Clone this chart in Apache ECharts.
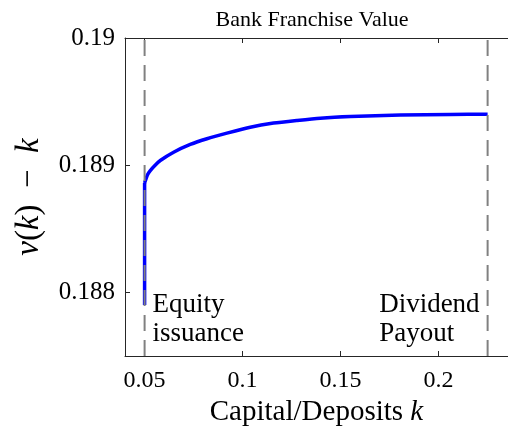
<!DOCTYPE html>
<html>
<head>
<meta charset="utf-8">
<script src="https://cdn.jsdelivr.net/npm/echarts@6/dist/echarts.min.js"></script>
<style>
  html, body { margin: 0; padding: 0; background: #fff; }
  #chart { width: 508px; height: 435px; }
</style>
</head>
<body>
<div id="chart"></div>
<script>
// values
const jumpK = [0.05, 0.05]
const jumpV = [0.18790, 0.18886]
const kVals = [0.05, 0.0515, 0.0529, 0.0555, 0.058, 0.0648, 0.0733, 0.0818, 0.092, 0.1039, 0.1158, 0.1278, 0.1396, 0.155, 0.1805, 0.206, 0.225]
const vVals = [0.18886, 0.188925, 0.188958, 0.189002, 0.189037, 0.189102, 0.189163, 0.189208, 0.189252, 0.189299, 0.189331, 0.189352, 0.18937, 0.189383, 0.189395, 0.189399, 0.1894]
const xTicks = [0.05, 0.1, 0.15, 0.2]
const yTicks = [0.188, 0.189, 0.19]
const equityK = 0.05
const dividendK = 0.225
const yRange = [0.1875, 0.19]

const font = "'Liberation Serif', 'DejaVu Serif', serif"
const axisCol = '#262626'

let chart = echarts.init(document.getElementById('chart'))

function dashed(k) {
  return {
    type: 'line',
    data: [[k, yRange[0]], [k, yRange[1]]],
    symbol: 'none',
    z: 5,
    silent: true,
    lineStyle: { color: '#808080', width: 2, type: [16, 9] }
  }
}

let blue = { color: '#0000ff', width: 3.5 }

let option = {
  animation: false,
  title: {
    text: 'Bank Franchise Value',
    left: 307, top: 4, textAlign: 'center',
    textStyle: { fontFamily: font, fontSize: 22, fontWeight: 'normal', color: '#000' }
  },
  grid: { left: 125, top: 38, right: 0, bottom: 79 },
  xAxis: [{
    type: 'value', min: 0.04, max: 0.2354,
    name: '{n|Capital/Deposits }{i|k}',
    nameLocation: 'middle', nameGap: 41,
    nameTextStyle: {
      rich: {
        n: { fontFamily: font, fontSize: 29, color: '#000' },
        i: { fontFamily: font, fontSize: 29, fontStyle: 'italic', color: '#000' }
      }
    },
    axisLine: { lineStyle: { color: axisCol, width: 1 } },
    axisTick: { inside: true, length: 5, customValues: xTicks, lineStyle: { color: axisCol } },
    axisLabel: { customValues: xTicks, fontFamily: font, fontSize: 24, color: '#000', margin: 13,
      formatter: v => String(+v.toFixed(3)) },
    splitLine: { show: false }
  }, {
    type: 'value', position: 'top', min: 0.04, max: 0.2354,
    axisLine: { show: true, lineStyle: { color: axisCol, width: 1 } },
    axisTick: { inside: true, length: 5, customValues: xTicks, lineStyle: { color: axisCol } },
    axisLabel: { show: false },
    splitLine: { show: false }
  }],
  yAxis: {
    type: 'value', min: yRange[0], max: yRange[1],
    name: '{i|v}{n|(}{i|k}{n|)  −  }{i|k}',
    nameLocation: 'middle', nameGap: 79, nameRotate: 90,
    nameTextStyle: {
      rich: {
        n: { fontFamily: font, fontSize: 33, color: '#000' },
        i: { fontFamily: font, fontSize: 33, fontStyle: 'italic', color: '#000' }
      }
    },
    axisLine: { show: true, lineStyle: { color: axisCol, width: 1 } },
    axisTick: { inside: true, length: 5, customValues: yTicks, lineStyle: { color: axisCol } },
    axisLabel: { customValues: yTicks, fontFamily: font, fontSize: 25, color: '#000', margin: 10,
      formatter: v => String(+v.toFixed(3)) },
    splitLine: { show: false }
  },
  series: [
    {
      type: 'line',
      data: jumpK.map((k, i) => [k, jumpV[i]]),
      symbol: 'none', z: 3,
      lineStyle: blue
    },
    {
      type: 'line',
      data: kVals.map((k, i) => [k, vVals[i]]),
      symbol: 'none', z: 3,
      smooth: 0.2,
      lineStyle: blue
    },
    dashed(equityK),
    dashed(dividendK)
  ]
}

chart.setOption(option)

// annotation texts next to the dashed lines
let pEq = chart.convertToPixel({ gridIndex: 0 }, [equityK, 0.188])
let pDiv = chart.convertToPixel({ gridIndex: 0 }, [dividendK, 0.188])
let txtStyle = { fontFamily: font, fontSize: 27, fill: '#000', lineHeight: 29 }
chart.setOption({
  graphic: [
    { type: 'text', left: pEq[0] + 8, top: pEq[1] - 2, style: Object.assign({ text: 'Equity\nissuance' }, txtStyle) },
    { type: 'text', right: 508 - pDiv[0] + 8, top: pDiv[1] - 2, style: Object.assign({ text: 'Dividend\nPayout', align: 'left' }, txtStyle) }
  ]
})
</script>
</body>
</html>
